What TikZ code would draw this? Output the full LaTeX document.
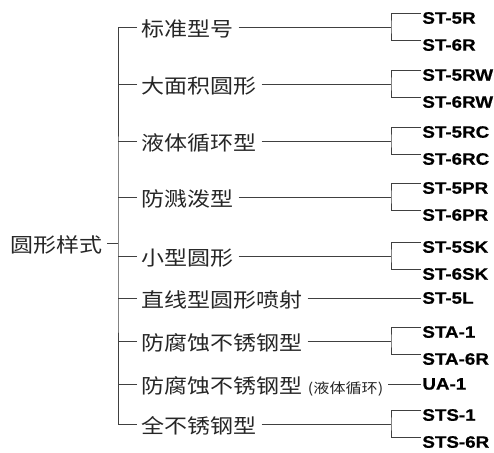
\documentclass[tikz,border=0pt]{standalone}
\usepackage{fontspec}
\setmainfont{Liberation Sans}
\newfontfamily\cjk{Noto Sans CJK SC}
\newfontfamily\modelfont[FakeBold=0.6]{Liberation Sans}

\tikzset{
  kind/.style={anchor=west, inner xsep=4pt, inner ysep=1pt, xscale=1.15,
    text height=20.5pt, text depth=2pt,
    text=black!85, font=\cjk\fontsize{20}{24}\selectfont},
  modeltext/.style={inner sep=1pt, xscale=1.14,
    font=\modelfont\bfseries\fontsize{16.5}{19}\selectfont},
  model/.style={modeltext, anchor=north west, inner ysep=0pt, text height=10pt},
  single/.style={modeltext, anchor=west},
  branch/.style={line width=0.7pt, black!75}
}

\begin{document}
\begin{tikzpicture}[x=1pt,y=-1pt]
\useasboundingbox (0,0) rectangle (494,452);

%% The root
\node [kind] (root) at (5.4,243) {圆形样式};
\coordinate (tk) at (118,243);

%% The kinds
\node [kind] (k1) at (137,27) {标准型号};
\node [kind] (k2) at (137,84) {大面积圆形};
\node [kind] (k3) at (137,141) {液体循环型};
\node [kind] (k4) at (137,197) {防溅泼型};
\node [kind] (k5) at (137,256) {小型圆形};
\node [kind] (k6) at (137,298) {直线型圆形喷射};
\node [kind] (k7) at (137,341) {防腐蚀不锈钢型};
\node [kind] (k8) at (137,384) {防腐蚀不锈钢型 {\fontsize{14}{16}\selectfont (液体循环)}};
\node [kind] (k9) at (137,424) {全不锈钢型};

%% The trunk
\draw [branch] (root) -- (tk);
\draw [branch] (k1.west) -| (tk) |- (k9.west);
\draw [branch] (k2.west) -- (k2.west -| tk);
\draw [branch] (k3.west) -- (k3.west -| tk);
\draw [branch] (k4.west) -- (k4.west -| tk);
\draw [branch] (k5.west) -- (k5.west -| tk);
\draw [branch] (k6.west) -- (k6.west -| tk);
\draw [branch] (k7.west) -- (k7.west -| tk);
\draw [branch] (k8.west) -- (k8.west -| tk);

%% The forks
\coordinate (f1) at (391,27);
\coordinate (f2) at (391,84);
\coordinate (f3) at (391,141);
\coordinate (f4) at (391,197);
\coordinate (f5) at (391,256);
\coordinate (f7) at (391,341);
\coordinate (f9) at (391,424);

%% The models
\node [model] (m1a) at (421,13.5) {ST-5R};
\node [model] (m1b) at (421,40.5) {ST-6R};
\node [model] (m2a) at (421,70.5) {ST-5RW};
\node [model] (m2b) at (421,97.5) {ST-6RW};
\node [model] (m3a) at (421,127.5) {ST-5RC};
\node [model] (m3b) at (421,154.5) {ST-6RC};
\node [model] (m4a) at (421,183.5) {ST-5PR};
\node [model] (m4b) at (421,210.5) {ST-6PR};
\node [model] (m5a) at (421,242.5) {ST-5SK};
\node [model] (m5b) at (421,269.5) {ST-6SK};
\node [single] (m6) at (421,298) {ST-5L};
\node [model] (m7a) at (421,327.5) {STA-1};
\node [model] (m7b) at (421,354.5) {STA-6R};
\node [single] (m8) at (421,384) {UA-1};
\node [model] (m9a) at (421,410.5) {STS-1};
\node [model] (m9b) at (421,437.5) {STS-6R};

%% kind to fork
\draw [branch] (k1) -- (f1);
\draw [branch] (k2) -- (f2);
\draw [branch] (k3) -- (f3);
\draw [branch] (k4) -- (f4);
\draw [branch] (k5) -- (f5);
\draw [branch] (k6) -- (m6);
\draw [branch] (k7) -- (f7);
\draw [branch] (k8) -- (m8);
\draw [branch] (k9) -- (f9);

%% fork to models
\draw [branch] (m1a.north west) -| (f1) |- (m1b.north west);
\draw [branch] (m2a.north west) -| (f2) |- (m2b.north west);
\draw [branch] (m3a.north west) -| (f3) |- (m3b.north west);
\draw [branch] (m4a.north west) -| (f4) |- (m4b.north west);
\draw [branch] (m5a.north west) -| (f5) |- (m5b.north west);
\draw [branch] (m7a.north west) -| (f7) |- (m7b.north west);
\draw [branch] (m9a.north west) -| (f9) |- (m9b.north west);

\end{tikzpicture}
\end{document}
